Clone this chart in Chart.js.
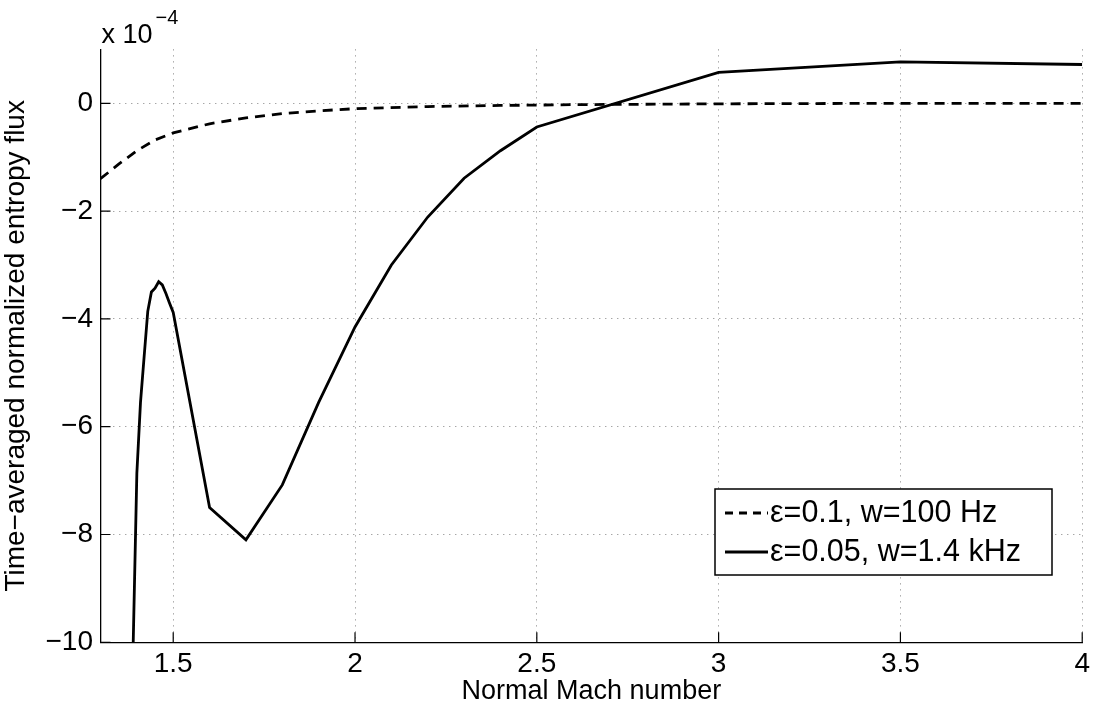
<!DOCTYPE html>
<html>
<head>
<meta charset="utf-8">
<script src="https://cdn.jsdelivr.net/npm/chart.js@4.4.1/dist/chart.umd.min.js"></script>
<style>
  html, body { margin: 0; padding: 0; background: #fff; }
  #wrap { width: 1095px; height: 705px; }
</style>
</head>
<body>
<div id="wrap"><canvas id="c" width="1095" height="705"></canvas></div>
<script>
// ---- data (values in units of 1e-4) ----
const dashedLabel = 'ε=0.1, w=100 Hz';
const dashedX = [1.3, 1.35, 1.4, 1.45, 1.5, 1.6, 1.7, 1.8, 1.9, 2.0, 2.2, 2.4, 2.6, 3.0, 3.5, 4.0];
const dashedY = [-1.4, -1.13, -0.88, -0.68, -0.55, -0.38, -0.27, -0.19, -0.14, -0.1, -0.06, -0.04, -0.025, -0.01, 0, 0];

const solidLabel = 'ε=0.05, w=1.4 kHz';
const solidX = [1.39, 1.40, 1.41, 1.42, 1.43, 1.44, 1.45, 1.46, 1.47, 1.48, 1.49, 1.5, 1.6, 1.7, 1.8, 1.9, 2.0, 2.1, 2.2, 2.3, 2.4, 2.5, 3.0, 3.5, 4.0];
const solidY = [-10, -6.86, -5.55, -4.7, -3.86, -3.5, -3.43, -3.31, -3.37, -3.53, -3.71, -3.88, -7.5, -8.1, -7.08, -5.55, -4.15, -3.0, -2.11, -1.39, -0.88, -0.44, 0.575, 0.77, 0.72];

const xTicks = [1.5, 2, 2.5, 3, 3.5, 4];
const yTicks = [-10, -8, -6, -4, -2, 0];
const xTitle = 'Normal Mach number';
const yTitle = 'Time\u2212averaged normalized entropy flux';
const expBase = 'x 10';
const expPow = '\u22124';

const FONT = '"Liberation Sans", Arial, Helvetica, sans-serif';
const toPts = (xs, ys) => xs.map((x, i) => ({x: x, y: ys[i]}));
const fmt = v => (v < 0 ? '\u2212' + String(Math.abs(v)) : String(v));

const overlay = {
  id: 'overlay',
  afterDatasetsDraw(chart) {
    const ctx = chart.ctx;
    const xs = chart.scales.x, ys = chart.scales.y;
    const a = chart.chartArea;
    ctx.save();
    // inward ticks
    ctx.strokeStyle = '#000';
    ctx.lineWidth = 1.2;
    ctx.beginPath();
    xTicks.forEach(v => {
      const px = xs.getPixelForValue(v);
      ctx.moveTo(px, a.bottom); ctx.lineTo(px, a.bottom - 10);
    });
    yTicks.forEach(v => {
      const py = ys.getPixelForValue(v);
      ctx.moveTo(a.left, py); ctx.lineTo(a.left + 10, py);
    });
    ctx.stroke();
    // exponent label
    ctx.fillStyle = '#000';
    ctx.textBaseline = 'alphabetic';
    ctx.textAlign = 'left';
    ctx.font = '27px ' + FONT;
    ctx.fillText(expBase, 101.5, 42.7);
    const w = ctx.measureText(expBase).width;
    ctx.font = '20px ' + FONT;
    ctx.fillText(expPow, 101.5 + w + 3, 24);
    // legend
    const L = 715, T = 489, R = 1052, B = 575;
    ctx.fillStyle = '#fff';
    ctx.fillRect(L, T, R - L, B - T);
    ctx.strokeStyle = '#000';
    ctx.lineWidth = 1.5;
    ctx.strokeRect(L, T, R - L, B - T);
    const rows = [
      {label: dashedLabel, dash: [8, 6], y: 513},
      {label: solidLabel, dash: [], y: 552}
    ];
    rows.forEach(r => {
      ctx.beginPath();
      ctx.setLineDash(r.dash);
      ctx.lineWidth = 2.8;
      ctx.moveTo(725, r.y); ctx.lineTo(768, r.y);
      ctx.stroke();
      ctx.setLineDash([]);
      ctx.fillStyle = '#000';
      ctx.font = '30.5px ' + FONT;
      ctx.textBaseline = 'middle';
      ctx.fillText(r.label, 770, r.y + 1);
    });
    ctx.restore();
  }
};

new Chart(document.getElementById('c'), {
  type: 'line',
  data: {
    datasets: [
      {label: dashedLabel, data: toPts(dashedX, dashedY), borderColor: '#000', borderWidth: 2.8, borderDash: [10, 7], pointRadius: 0, fill: false, tension: 0},
      {label: solidLabel, data: toPts(solidX, solidY), borderColor: '#000', borderWidth: 2.8, pointRadius: 0, fill: false, tension: 0}
    ]
  },
  options: {
    responsive: false,
    animation: false,
    devicePixelRatio: 1,
    layout: {padding: {top: 49.4, right: 11.7, left: 0, bottom: 0}},
    plugins: {legend: {display: false}, tooltip: {enabled: false}},
    scales: {
      x: {
        type: 'linear', min: 1.3, max: 4,
        afterBuildTicks: s => { s.ticks = xTicks.map(v => ({value: v})); },
        afterFit: s => { s.height = 62.7; },
        grid: {color: '#808080', lineWidth: 1, drawTicks: false},
        border: {color: '#000', width: 1.3, dash: [1, 5]},
        ticks: {font: {size: 28, family: FONT}, color: '#000', padding: 5, autoSkip: false, maxRotation: 0, callback: v => fmt(v)},
        title: {display: true, text: xTitle, font: {size: 27, family: FONT, lineHeight: 1.0}, color: '#000', padding: 0}
      },
      y: {
        type: 'linear', min: -10, max: 1,
        afterBuildTicks: s => { s.ticks = yTicks.map(v => ({value: v})); },
        afterFit: s => { s.width = 100.5; },
        grid: {color: '#808080', lineWidth: 1, drawTicks: false},
        border: {color: '#000', width: 1.3, dash: [1, 5]},
        ticks: {font: {size: 28, family: FONT}, color: '#000', padding: 7.5, autoSkip: false, callback: v => fmt(v)},
        title: {display: true, text: yTitle, font: {size: 28, family: FONT, lineHeight: 1.15}, color: '#000', padding: 0}
      }
    }
  },
  plugins: [overlay]
});
</script>
</body>
</html>
